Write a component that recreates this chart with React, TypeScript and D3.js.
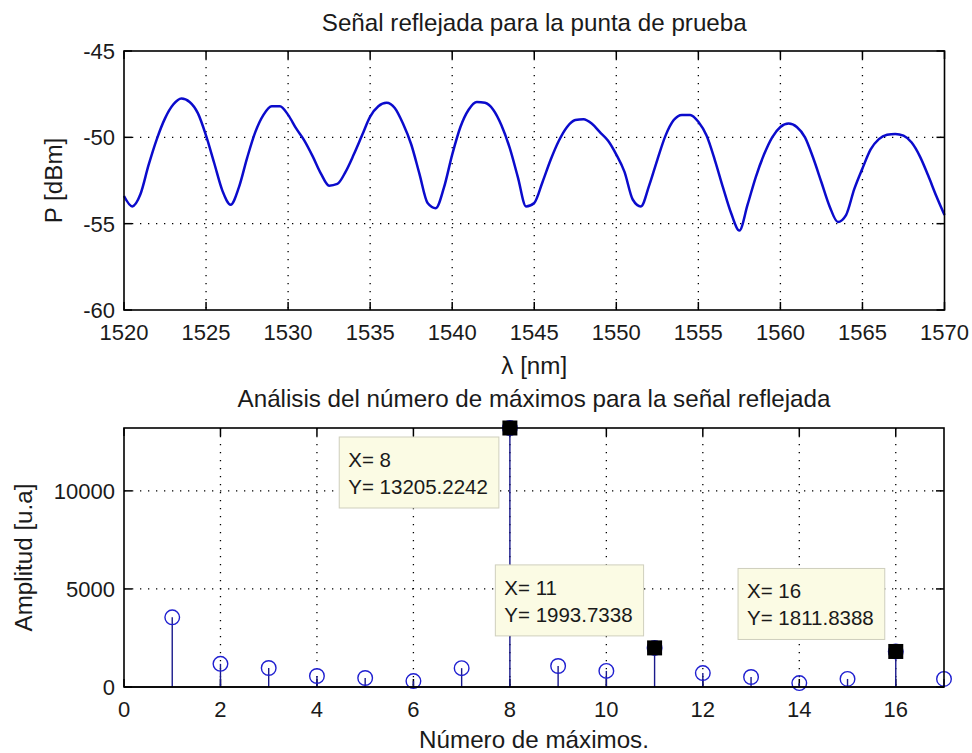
import React from "react";
import * as d3 from "d3";

const W = 972;
const H = 753;
const FONT = "'Liberation Sans', Arial, Helvetica, sans-serif";

// Reflected power spectrum of the test probe: [wavelength nm, power dBm]
const reflectedSpectrum: [number, number][] = [
  [1520.0, -53.4], [1520.5, -54.0], [1521.0, -53.3], [1521.5, -51.6], [1522.0, -50.1],
  [1522.5, -48.9], [1523.0, -48.1], [1523.5, -47.75], [1524.0, -47.95], [1524.5, -48.6],
  [1525.0, -49.9], [1525.5, -51.5], [1526.0, -53.1], [1526.5, -53.9], [1527.0, -52.9],
  [1527.5, -51.2], [1528.0, -49.7], [1528.5, -48.7], [1529.0, -48.2], [1529.5, -48.2],
  [1530.0, -48.7], [1530.5, -49.5], [1531.0, -50.2], [1531.5, -51.1], [1532.0, -52.1],
  [1532.5, -52.8], [1533.0, -52.7], [1533.5, -52.0], [1534.0, -51.0], [1534.5, -49.9],
  [1535.0, -48.8], [1535.5, -48.2], [1536.0, -48.0], [1536.5, -48.3], [1537.0, -49.2],
  [1537.5, -50.4], [1538.0, -52.1], [1538.5, -53.8], [1539.0, -54.1], [1539.5, -52.9],
  [1540.0, -51.0], [1540.5, -49.4], [1541.0, -48.4], [1541.5, -47.95], [1542.0, -48.0],
  [1542.5, -48.4], [1543.0, -49.3], [1543.5, -50.6], [1544.0, -52.3], [1544.5, -54.0],
  [1545.0, -53.8], [1545.5, -52.6], [1546.0, -51.3], [1546.5, -50.2], [1547.0, -49.4],
  [1547.5, -49.0], [1548.0, -48.95], [1548.5, -49.2], [1549.0, -49.7], [1549.5, -50.2],
  [1550.0, -51.0], [1550.5, -52.0], [1551.0, -53.6], [1551.5, -54.0], [1552.0, -52.8],
  [1552.5, -51.3], [1553.0, -49.9], [1553.5, -49.0], [1554.0, -48.7], [1554.5, -48.7],
  [1555.0, -49.1], [1555.5, -49.9], [1556.0, -51.3], [1556.5, -52.9], [1557.0, -54.4],
  [1557.5, -55.4], [1558.0, -53.9], [1558.5, -52.3], [1559.0, -51.0], [1559.5, -50.0],
  [1560.0, -49.4], [1560.5, -49.2], [1561.0, -49.4], [1561.5, -50.0], [1562.0, -51.2],
  [1562.5, -52.6], [1563.0, -54.0], [1563.5, -54.9], [1564.0, -54.5], [1564.5, -53.0],
  [1565.0, -51.8], [1565.5, -50.7], [1566.0, -50.1], [1566.5, -49.85], [1567.0, -49.8],
  [1567.5, -49.9], [1568.0, -50.3], [1568.5, -51.1], [1569.0, -52.2], [1569.5, -53.4],
  [1570.0, -54.5],
];
const wavelengthTicks = [1520, 1525, 1530, 1535, 1540, 1545, 1550, 1555, 1560, 1565, 1570];
const powerTicks = [-45, -50, -55, -60];

// Spectrum of the number of maxima
const maxCount = [1, 2, 3, 4, 5, 6, 7, 8, 9, 10, 11, 12, 13, 14, 15, 16, 17];
const amplitude = [
  3550, 1180, 970, 560, 460, 300, 960, 13205.2242, 1070, 820, 1993.7338, 710, 510, 200, 410,
  1811.8388, 410,
];
const countTicks = [0, 2, 4, 6, 8, 10, 12, 14, 16];
const amplitudeTicks = [0, 5000, 10000];

// Data cursors shown on the stem plot
const tipCounts = [8, 11, 16];
const tipSide = ["below", "above", "above"];

const TICK_FS = 22;
const TITLE_FS = 24.2;
const TIP_FS = 20.5;
const INK = "#1a1a1a";

function measure(text: string, size: number): number {
  const c = document.createElement("canvas").getContext("2d");
  if (!c) return text.length * size * 0.55;
  c.font = `${size}px 'Liberation Sans', Arial, sans-serif`;
  return c.measureText(text).width;
}

type Box = { left: number; right: number; top: number; bottom: number };

function Frame({ box, xs, ys, xTicks, yTicks }: {
  box: Box;
  xs: d3.ScaleLinear<number, number>;
  ys: d3.ScaleLinear<number, number>;
  xTicks: number[];
  yTicks: number[];
}) {
  const tl = 8;
  const dash = "1.3 6.7";
  const innerX = xTicks.filter((t) => xs(t) > box.left + 1 && xs(t) < box.right - 1);
  const innerY = yTicks.filter((t) => ys(t) < box.bottom - 1 && ys(t) > box.top + 1);
  return (
    <g>
      {innerX.map((t) => (
        <line key={"gx" + t} x1={xs(t)} x2={xs(t)} y1={box.top} y2={box.bottom}
          stroke="#000" strokeWidth={1.3} strokeDasharray={dash} />
      ))}
      {innerY.map((t) => (
        <line key={"gy" + t} x1={box.left} x2={box.right} y1={ys(t)} y2={ys(t)}
          stroke="#000" strokeWidth={1.3} strokeDasharray={dash} />
      ))}
      {xTicks.map((t) => (
        <g key={"tx" + t}>
          <line x1={xs(t)} x2={xs(t)} y1={box.bottom} y2={box.bottom - tl} stroke="#000" strokeWidth={1.5} />
          <line x1={xs(t)} x2={xs(t)} y1={box.top} y2={box.top + tl} stroke="#000" strokeWidth={1.5} />
        </g>
      ))}
      {yTicks.map((t) => (
        <g key={"ty" + t}>
          <line x1={box.left} x2={box.left + tl} y1={ys(t)} y2={ys(t)} stroke="#000" strokeWidth={1.5} />
          <line x1={box.right} x2={box.right - tl} y1={ys(t)} y2={ys(t)} stroke="#000" strokeWidth={1.5} />
        </g>
      ))}
    </g>
  );
}

function Border({ box }: { box: Box }) {
  return (
    <rect x={box.left} y={box.top} width={box.right - box.left} height={box.bottom - box.top}
      fill="none" stroke="#000" strokeWidth={1.6} />
  );
}

function TickLabels({ box, xs, ys, xTicks, yTicks, xBase }: {
  box: Box;
  xs: d3.ScaleLinear<number, number>;
  ys: d3.ScaleLinear<number, number>;
  xTicks: number[];
  yTicks: number[];
  xBase: number;
}) {
  return (
    <g fontFamily={FONT} fontSize={TICK_FS} fill={INK}>
      {xTicks.map((t) => (
        <text key={"lx" + t} x={xs(t)} y={box.bottom + xBase} textAnchor="middle">{t}</text>
      ))}
      {yTicks.map((t) => (
        <text key={"ly" + t} x={box.left - 9} y={ys(t) + 8} textAnchor="end">{t}</text>
      ))}
    </g>
  );
}

export default function App() {
  // Upper panel: reflected signal
  const topBox: Box = { left: 124, right: 944.5, top: 51, bottom: 310 };
  const xTop = d3.scaleLinear().domain([1520, 1570]).range([topBox.left, topBox.right]);
  const yTop = d3.scaleLinear().domain([-60, -45]).range([topBox.bottom, topBox.top]);
  const spectrumPath = d3
    .line<[number, number]>()
    .x((d) => xTop(d[0]))
    .y((d) => yTop(d[1]))
    .curve(d3.curveMonotoneX)(reflectedSpectrum) || "";

  // Lower panel: stem plot of the maxima analysis
  const botBox: Box = { left: 124, right: 944, top: 428, bottom: 687 };
  const xBot = d3.scaleLinear().domain([0, 17]).range([botBox.left, botBox.right]);
  const yBot = d3.scaleLinear().domain([0, d3.max(amplitude) as number]).range([botBox.bottom, botBox.top]);

  const tips = tipCounts.map((n, i) => {
    const v = amplitude[maxCount.indexOf(n)];
    const px = xBot(n);
    const py = yBot(v);
    const l1 = `X= ${n}`;
    const l2 = `Y= ${v.toFixed(4)}`;
    const w = Math.max(measure(l1, TIP_FS), measure(l2, TIP_FS)) + 20;
    const h = 71;
    const right = px - 11;
    const top = tipSide[i] === "below" ? py + 9 : py - 12 - h;
    return { n, v, px, py, l1, l2, x: right - w, y: top, w, h };
  });

  return (
    <svg width={W} height={H} viewBox={`0 0 ${W} ${H}`}
      style={{ position: "absolute", left: 0, top: 0, background: "#fff" }}>
      <rect x={0} y={0} width={W} height={H} fill="#fff" />

      {/* upper panel */}
      <Frame box={topBox} xs={xTop} ys={yTop} xTicks={wavelengthTicks} yTicks={powerTicks} />
      <path d={spectrumPath} fill="none" stroke="#0b0bcc" strokeWidth={2.5} strokeLinejoin="round" />
      <Border box={topBox} />
      <TickLabels box={topBox} xs={xTop} ys={yTop} xTicks={wavelengthTicks} yTicks={powerTicks} xBase={30} />
      <text x={(topBox.left + topBox.right) / 2} y={31} textAnchor="middle"
        fontFamily={FONT} fontSize={TITLE_FS} fill={INK}>Señal reflejada para la punta de prueba</text>
      <text x={(topBox.left + topBox.right) / 2} y={374} textAnchor="middle"
        fontFamily={FONT} fontSize={TITLE_FS} fill={INK}>λ [nm]</text>
      <text transform={`translate(62, ${(topBox.top + topBox.bottom) / 2}) rotate(-90)`} textAnchor="middle"
        fontFamily={FONT} fontSize={TITLE_FS} fill={INK}>P [dBm]</text>

      {/* lower panel */}
      <Frame box={botBox} xs={xBot} ys={yBot} xTicks={countTicks} yTicks={amplitudeTicks} />
      {maxCount.map((n, i) => (
        <line key={"s" + n} x1={xBot(n)} x2={xBot(n)} y1={yBot(0)} y2={yBot(amplitude[i])}
          stroke="#1a1a8c" strokeWidth={1.4} />
      ))}
      {maxCount.map((n, i) => (
        <circle key={"c" + n} cx={xBot(n)} cy={yBot(amplitude[i])} r={7.3}
          fill="none" stroke="#1f1fd0" strokeWidth={1.4} />
      ))}
      <line x1={botBox.left} x2={botBox.right} y1={yBot(0)} y2={yBot(0)} stroke="#000" strokeWidth={1.6} />
      {tips.map((t) => (
        <rect key={"m" + t.n} x={t.px - 7.5} y={t.py - 7.5} width={15} height={15} fill="#000" />
      ))}
      <Border box={botBox} />
      {tips.map((t) => (
        <g key={"tip" + t.n} fontFamily={FONT} fontSize={TIP_FS} fill={INK}>
          <rect x={t.x} y={t.y} width={t.w} height={t.h} fill="#fbfbe4" stroke="#cfcfbd" strokeWidth={1} />
          <text x={t.x + 9} y={t.y + 30}>{t.l1}</text>
          <text x={t.x + 9} y={t.y + 57}>{t.l2}</text>
        </g>
      ))}
      <TickLabels box={botBox} xs={xBot} ys={yBot} xTicks={countTicks} yTicks={amplitudeTicks} xBase={30} />
      <text x={(botBox.left + botBox.right) / 2} y={407} textAnchor="middle"
        fontFamily={FONT} fontSize={TITLE_FS} fill={INK}>Análisis del número de máximos para la señal reflejada</text>
      <text x={(botBox.left + botBox.right) / 2} y={748} textAnchor="middle"
        fontFamily={FONT} fontSize={TITLE_FS} fill={INK}>Número de máximos.</text>
      <text transform={`translate(32, ${(botBox.top + botBox.bottom) / 2}) rotate(-90)`} textAnchor="middle"
        fontFamily={FONT} fontSize={TITLE_FS} fill={INK}>Amplitud [u.a]</text>
    </svg>
  );
}
